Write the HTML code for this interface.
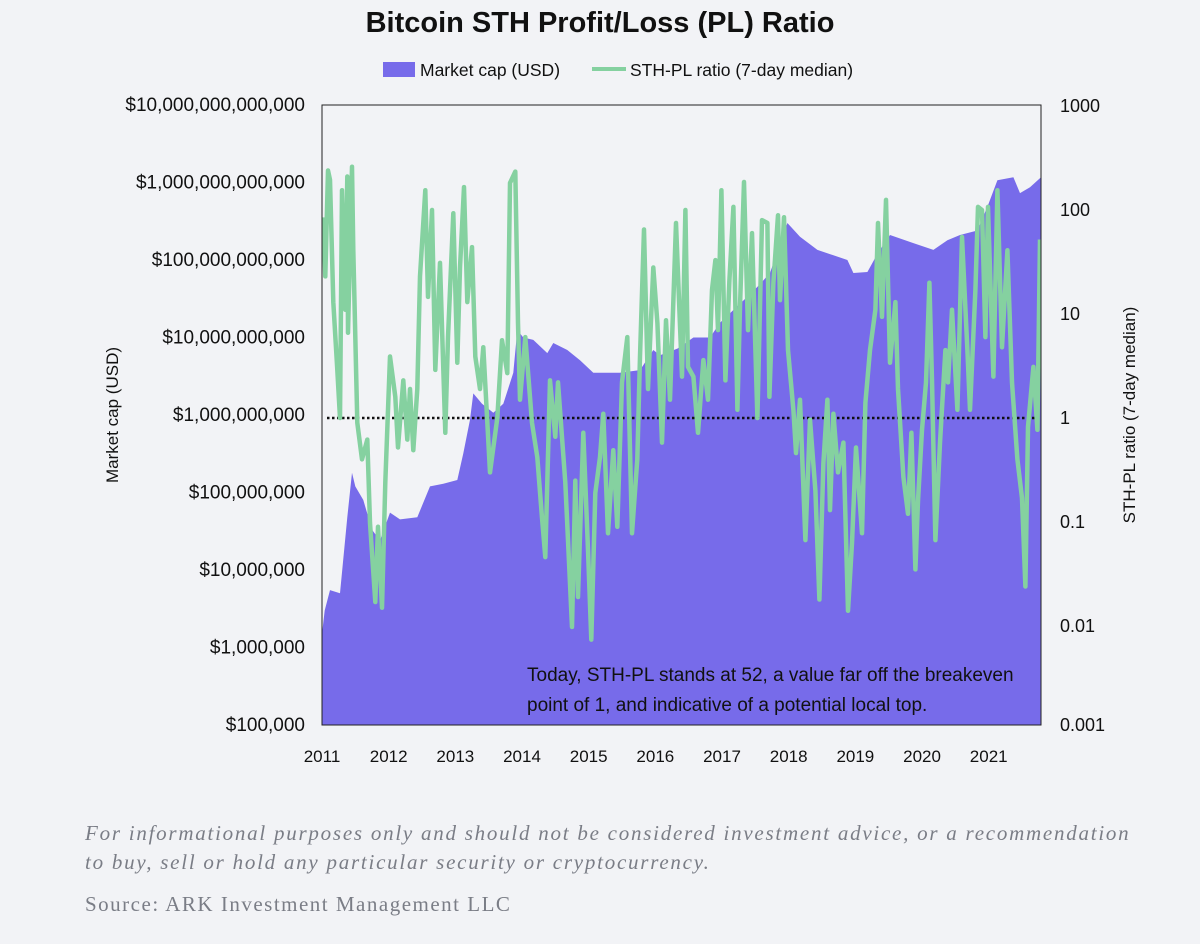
<!DOCTYPE html>
<html><head><meta charset="utf-8">
<style>
body{margin:0;background:#f2f3f6;width:1200px;height:944px;overflow:hidden;font-family:"Liberation Sans",sans-serif;}
svg{display:block}
</style></head>
<body>
<svg id="chart" width="1200" height="944" viewBox="0 0 1200 944" xmlns="http://www.w3.org/2000/svg">
<rect x="0" y="0" width="1200" height="944" fill="#f2f3f6"/>
<text x="600" y="32" text-anchor="middle" font-size="29" font-weight="bold" fill="#111">Bitcoin STH Profit/Loss (PL) Ratio</text>
<g>
<rect x="383" y="62" width="32" height="15" fill="#776bea"/>
<text x="420" y="76" font-size="17.5" fill="#111">Market cap (USD)</text>
<line x1="592" y1="69" x2="626" y2="69" stroke="#85d1a0" stroke-width="4"/>
<text x="630" y="76" font-size="17.5" fill="#111">STH-PL ratio (7-day median)</text>
</g>
<g id="plot"></g>
<text transform="translate(118,415) rotate(-90)" text-anchor="middle" font-size="17" fill="#111">Market cap (USD)</text>
<text transform="translate(1135,415) rotate(-90)" text-anchor="middle" font-size="17" fill="#111">STH-PL ratio (7-day median)</text>
<text x="85" y="840" font-family="Liberation Serif, serif" font-style="italic" font-size="21" letter-spacing="1.75" fill="#7a7d86">For informational purposes only and should not be considered investment advice, or a recommendation</text>
<text x="85" y="869" font-family="Liberation Serif, serif" font-style="italic" font-size="21" letter-spacing="1.75" fill="#7a7d86">to buy, sell or hold any particular security or cryptocurrency.</text>
<text x="85" y="911" font-family="Liberation Serif, serif" font-size="21" letter-spacing="1.5" fill="#7a7d86">Source: ARK Investment Management LLC</text>
</svg>
<script>
const capDates=[2011.0,2011.04,2011.12,2011.27,2011.38,2011.45,2011.50,2011.62,2011.75,2011.87,2012.02,2012.17,2012.43,2012.62,2012.82,2013.03,2013.12,2013.22,2013.27,2013.40,2013.57,2013.72,2013.87,2013.93,2014.02,2014.17,2014.38,2014.47,2014.68,2014.87,2015.07,2015.47,2015.77,2015.97,2016.07,2016.33,2016.57,2016.82,2016.97,2017.32,2017.53,2017.72,2017.98,2018.17,2018.43,2018.67,2018.88,2018.97,2019.18,2019.33,2019.52,2019.87,2020.17,2020.38,2020.57,2020.83,2020.99,2021.13,2021.37,2021.47,2021.62,2021.785];
const capValues=[1.5e6,3e6,5.5e6,5e6,4.8e7,1.8e8,1.2e8,8e7,3.3e7,2.4e7,5.5e7,4.5e7,4.8e7,1.2e8,1.3e8,1.45e8,3.2e8,8.7e8,1.9e9,1.4e9,1.07e9,1.4e9,3.5e9,1.25e10,1.0e10,9.3e9,6.3e9,8.5e9,6.9e9,5.1e9,3.5e9,3.5e9,3.8e9,6.9e9,5.9e9,7.2e9,1.0e10,1.0e10,1.55e10,3.0e10,4.5e10,6.8e10,3.0e11,2.0e11,1.35e11,1.15e11,1.0e11,6.8e10,7e10,1.2e11,2.1e11,1.65e11,1.35e11,1.8e11,2.1e11,2.4e11,5.1e11,1.07e12,1.17e12,7.3e11,8.7e11,1.17e12];
const plDates=[2011.02,2011.05,2011.09,2011.12,2011.17,2011.23,2011.27,2011.30,2011.35,2011.38,2011.39,2011.45,2011.47,2011.53,2011.60,2011.68,2011.72,2011.80,2011.84,2011.90,2011.95,2012.02,2012.10,2012.14,2012.22,2012.28,2012.32,2012.37,2012.43,2012.47,2012.55,2012.59,2012.65,2012.70,2012.77,2012.85,2012.89,2012.97,2013.03,2013.07,2013.13,2013.18,2013.25,2013.30,2013.37,2013.42,2013.52,2013.63,2013.70,2013.78,2013.82,2013.90,2013.94,2013.97,2014.05,2014.15,2014.23,2014.30,2014.35,2014.42,2014.50,2014.54,2014.65,2014.69,2014.75,2014.80,2014.84,2014.92,2014.99,2015.04,2015.10,2015.17,2015.22,2015.29,2015.37,2015.43,2015.50,2015.58,2015.65,2015.73,2015.77,2015.83,2015.89,2015.97,2016.03,2016.10,2016.16,2016.22,2016.31,2016.40,2016.45,2016.49,2016.57,2016.64,2016.72,2016.79,2016.85,2016.90,2016.94,2016.99,2017.05,2017.11,2017.17,2017.23,2017.27,2017.33,2017.39,2017.45,2017.53,2017.60,2017.68,2017.71,2017.77,2017.84,2017.87,2017.93,2017.99,2018.07,2018.11,2018.17,2018.25,2018.32,2018.40,2018.46,2018.52,2018.58,2018.62,2018.67,2018.74,2018.82,2018.89,2018.95,2019.01,2019.10,2019.15,2019.22,2019.30,2019.34,2019.40,2019.46,2019.52,2019.60,2019.64,2019.72,2019.79,2019.84,2019.90,2019.94,2020.00,2020.06,2020.11,2020.15,2020.20,2020.27,2020.35,2020.39,2020.45,2020.53,2020.60,2020.68,2020.72,2020.80,2020.84,2020.90,2020.95,2020.99,2021.07,2021.13,2021.20,2021.28,2021.35,2021.43,2021.50,2021.55,2021.59,2021.67,2021.73,2021.77];
const plValues=[85,23,240,195,13,2.9,1.0,155,11,210,6.6,260,41,0.9,0.4,0.62,0.098,0.017,0.09,0.015,0.24,3.9,1.6,0.52,2.3,0.62,1.9,0.49,1.9,23,155,14.6,100,2.9,31,0.72,6,93,3.4,28,166,13,44,3.9,1.9,4.8,0.3,1.0,5.6,2.7,182,234,8.2,1.5,6,0.9,0.42,0.11,0.046,2.3,0.66,2.2,0.24,0.067,0.0098,0.25,0.019,0.72,0.054,0.0074,0.19,0.42,1.1,0.078,0.49,0.09,2.2,6,0.078,0.4,3.9,65,1.9,28,8.2,0.58,8.7,1.5,75,2.5,100,3.1,2.5,0.72,3.6,1.5,17,33,7,155,2.3,21,107,1.2,11.7,186,7,60,1.0,80,75,1.6,20,89,13.6,85,4.5,1.2,0.46,1.5,0.067,0.96,0.2,0.018,0.37,1.5,0.13,1.1,0.3,0.58,0.014,0.063,0.52,0.078,1.4,4.5,11,75,9.4,125,3.4,13,1.9,0.27,0.12,0.72,0.035,0.16,0.77,2.2,20,2.3,0.067,0.58,4.5,2.2,11,1.2,55,4.5,1.2,17,107,100,6,107,2.5,155,4.8,41,2.2,0.4,0.17,0.024,0.82,3.1,0.77,52];
const xTickYears=[2011,2012,2013,2014,2015,2016,2017,2018,2019,2020,2021];
const leftTickValues=[1e5,1e6,1e7,1e8,1e9,1e10,1e11,1e12,1e13];
const leftTickLabels=["$100,000","$1,000,000","$10,000,000","$100,000,000","$1,000,000,000","$10,000,000,000","$100,000,000,000","$1,000,000,000,000","$10,000,000,000,000"];
const rightTickValues=[0.001,0.01,0.1,1,10,100,1000];
const rightTickLabels=["0.001","0.01","0.1","1","10","100","1000"];

const NS="http://www.w3.org/2000/svg";
const L=322,R=1041,T=105,B=725;
const xS=y=>L+(y-2011)*66.67;
const yL=v=>T+(13-Math.log10(v))*77.5;
const yR=v=>418-Math.log10(v)*104;
const plot=document.getElementById('plot');
function mk(tag,attrs){const e=document.createElementNS(NS,tag);for(const k in attrs)e.setAttribute(k,attrs[k]);return e;}
const defs=mk('defs',{});const cp=mk('clipPath',{id:'clip'});cp.appendChild(mk('rect',{x:L,y:T,width:R-L,height:B-T}));defs.appendChild(cp);plot.appendChild(defs);

let d='M'+xS(capDates[0])+','+B;
capDates.forEach((t,i)=>{d+=' L'+xS(t).toFixed(1)+','+yL(capValues[i]).toFixed(1);});
d+=' L'+R+','+B+' Z';
const area=mk('path',{d:d,fill:'#776bea','clip-path':'url(#clip)'});


plot.appendChild(area);

const ref=mk('line',{x1:L+5,x2:R,y1:yR(1),y2:yR(1),stroke:'#111','stroke-width':2.5,'stroke-dasharray':'2.5 2.5'});


plot.appendChild(ref);

let p='';
plDates.forEach((t,i)=>{p+=(i?' L':'M')+xS(t).toFixed(1)+','+yR(plValues[i]).toFixed(1);});
const line=mk('path',{d:p,fill:'none',stroke:'#85d1a0','stroke-width':4.5,'stroke-linejoin':'round','clip-path':'url(#clip)'});


plot.appendChild(line);

const frame=mk('rect',{x:L,y:T,width:R-L,height:B-T,fill:'none',stroke:'#222','stroke-width':1});


plot.appendChild(frame);

leftTickValues.forEach((v,i)=>{const t=mk('text',{x:305,y:yL(v)+6,'text-anchor':'end','font-size':19,fill:'#111'});t.textContent=leftTickLabels[i];


plot.appendChild(t);});
rightTickValues.forEach((v,i)=>{const yy=Math.min(Math.max(yR(v),T),B);const t=mk('text',{x:1060,y:yy+6,'font-size':18,fill:'#111'});t.textContent=rightTickLabels[i];


plot.appendChild(t);});
xTickYears.forEach(yv=>{const t=mk('text',{x:xS(yv),y:762,'text-anchor':'middle','font-size':17,fill:'#111'});t.textContent=String(yv);


plot.appendChild(t);});

const a1=mk('text',{x:527,y:681,'font-size':19,fill:'#111'});a1.textContent='Today, STH-PL stands at 52, a value far off the breakeven';


plot.appendChild(a1);
const a2=mk('text',{x:527,y:711,'font-size':19,fill:'#111'});a2.textContent='point of 1, and indicative of a potential local top.';


plot.appendChild(a2);
</script>
</body></html>
